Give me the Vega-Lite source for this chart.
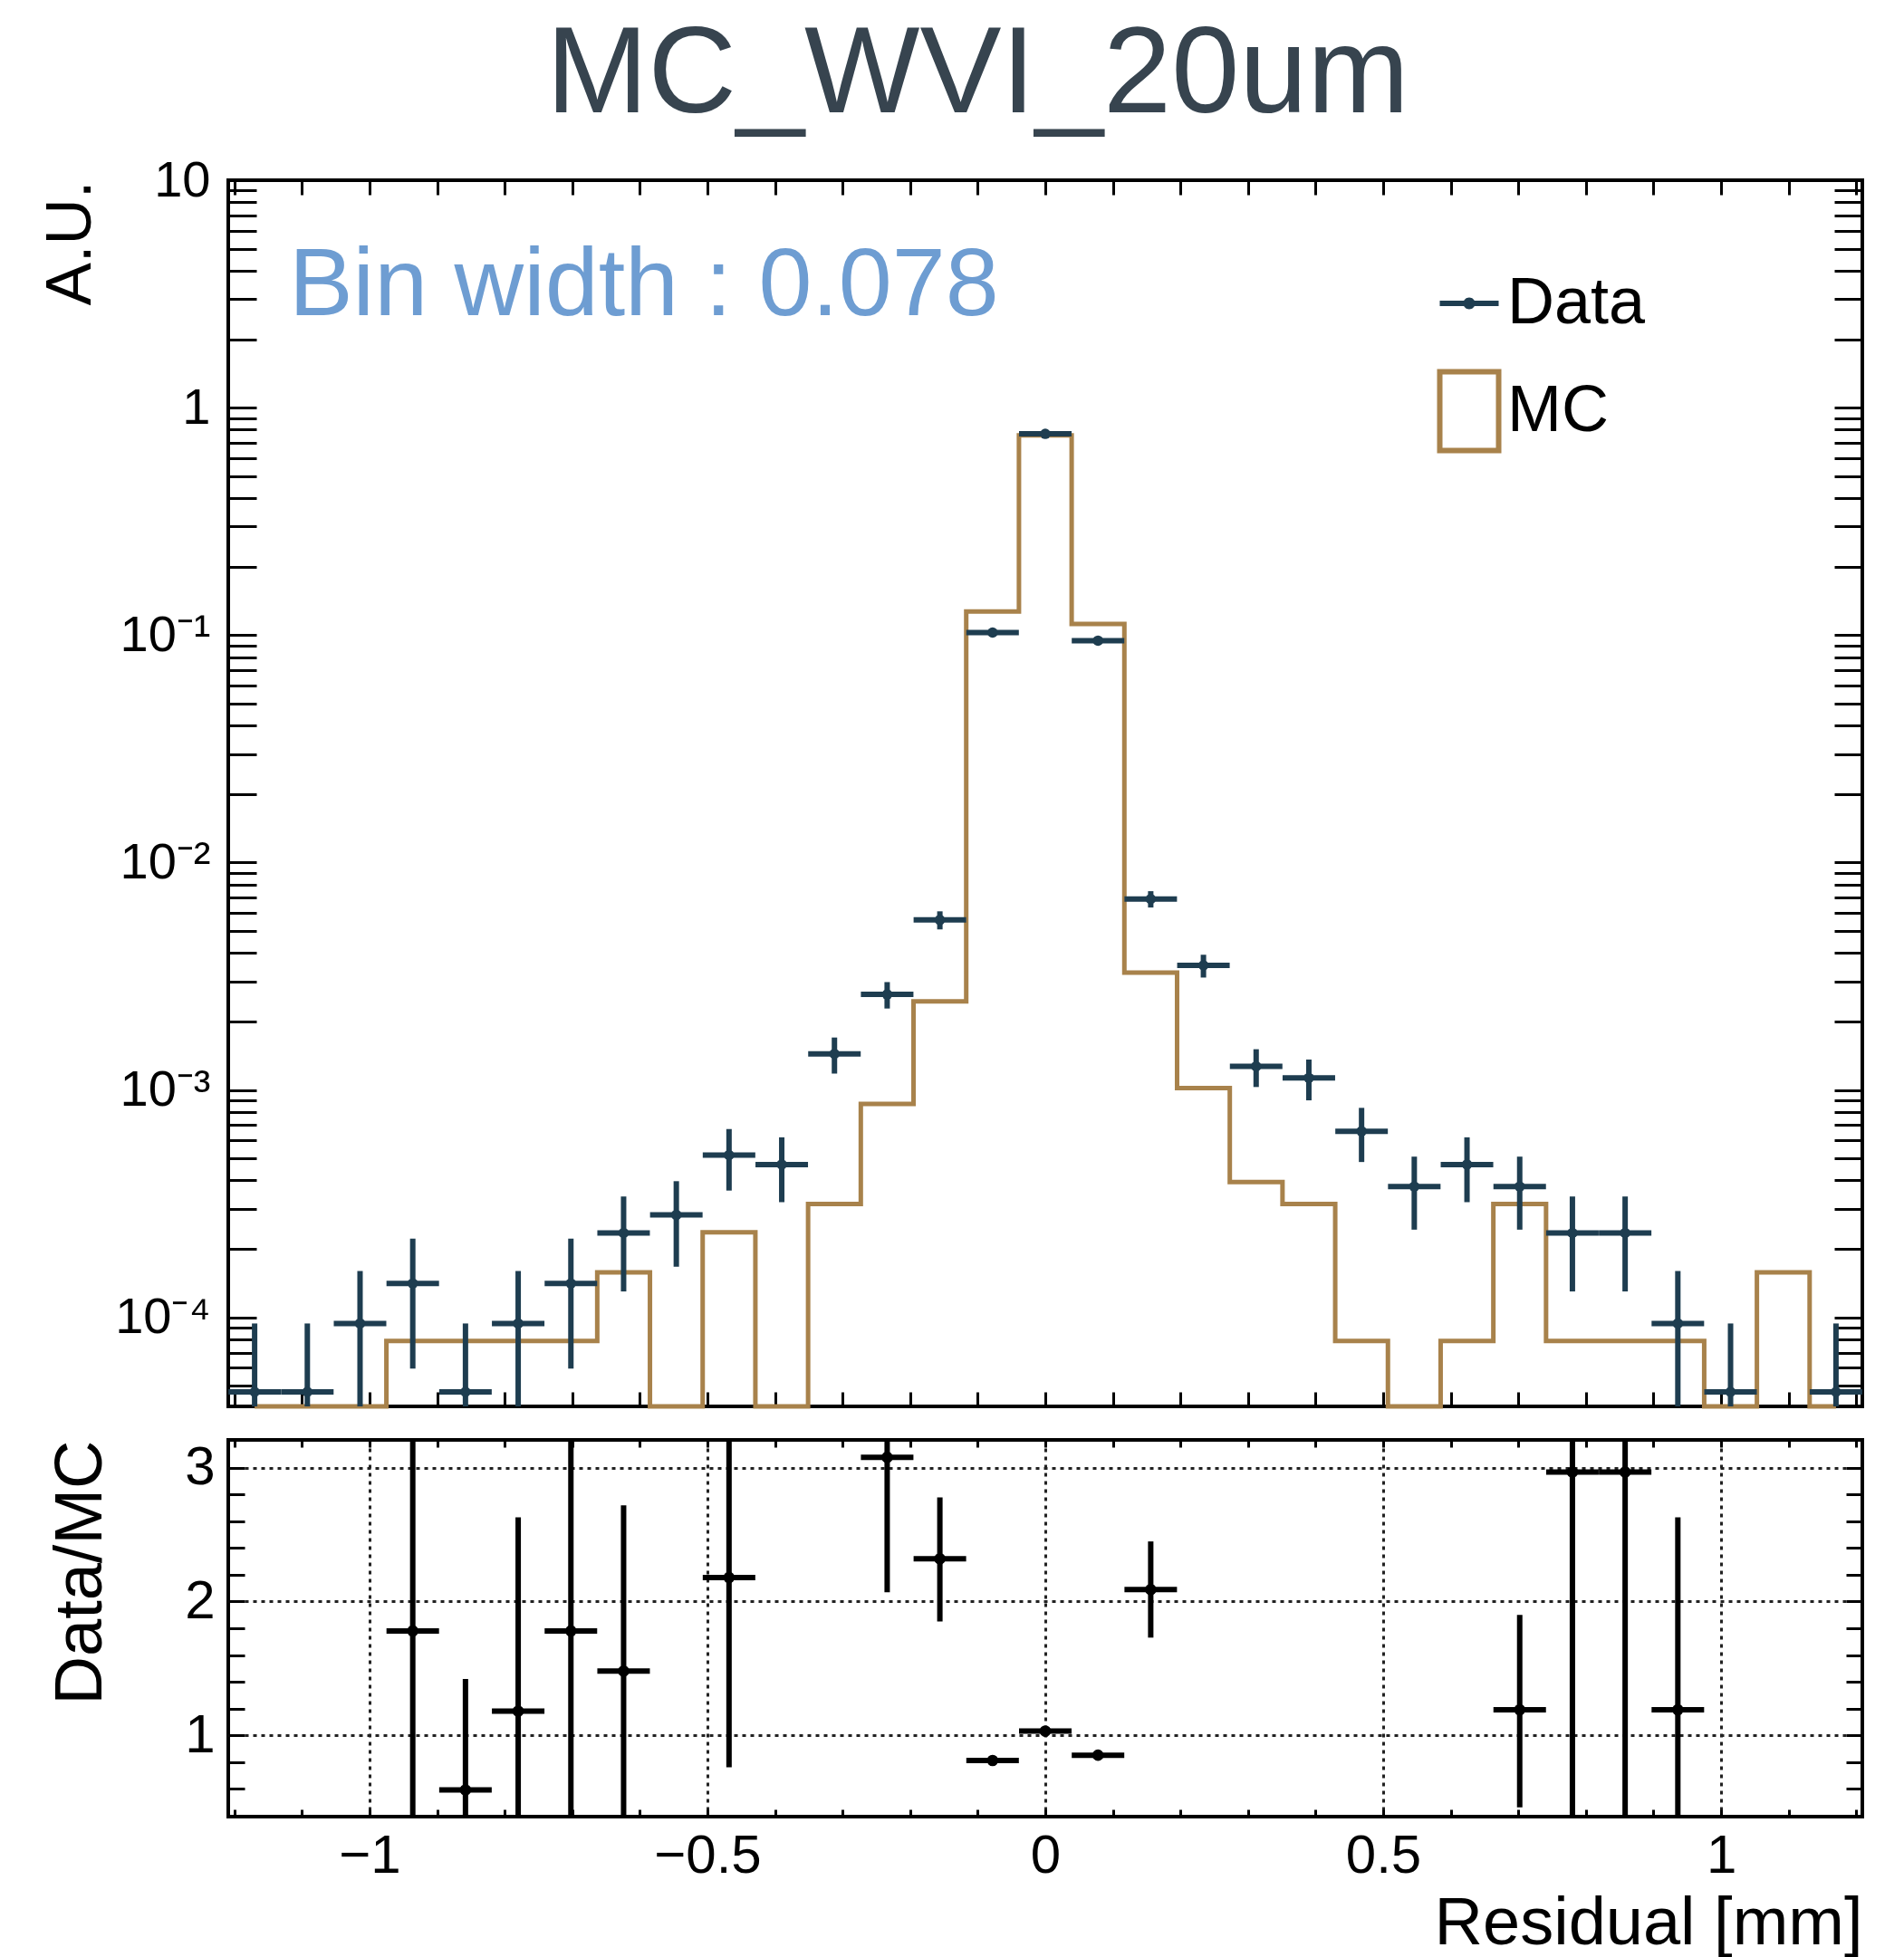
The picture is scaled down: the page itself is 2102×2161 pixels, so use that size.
{
  "$schema": "https://vega.github.io/schema/vega-lite/v6.json",
  "background": "white",
  "padding": {"left": 39, "top": 16, "right": 40, "bottom": 10},
  "bounds": "flush",
  "spacing": 37,
  "config": {
    "font": "Liberation Sans",
    "view": {"stroke": "black", "strokeWidth": 4},
    "axis": {"domain": false, "tickColor": "black", "tickWidth": 3, "labelColor": "black", "titleColor": "black", "labelFont": "Liberation Sans", "titleFont": "Liberation Sans", "titleFontWeight": "normal"}
  },
  "title": {"text": "MC_WVI_20um", "fontSize": 135, "font": "Liberation Sans", "fontWeight": "normal", "color": "#37444f", "anchor": "start", "frame": "group", "dx": 351, "baseline": "alphabetic", "offset": -90},
  "datasets": {
    "mc": [
      {"x": -1.17, "v": 0}, {"x": -1.092, "v": 0}, {"x": -1.014, "v": 0},
      {"x": -0.936, "v": 7.88e-5}, {"x": -0.858, "v": 7.88e-5}, {"x": -0.78, "v": 7.88e-5}, {"x": -0.702, "v": 7.88e-5},
      {"x": -0.624, "v": 1.576e-4}, {"x": -0.546, "v": 0}, {"x": -0.468, "v": 2.364e-4}, {"x": -0.39, "v": 0},
      {"x": -0.312, "v": 3.152e-4}, {"x": -0.234, "v": 8.67e-4}, {"x": -0.156, "v": 2.45e-3}, {"x": -0.078, "v": 0.127},
      {"x": 0, "v": 0.755}, {"x": 0.078, "v": 0.112}, {"x": 0.156, "v": 3.28e-3}, {"x": 0.234, "v": 1.02e-3},
      {"x": 0.312, "v": 3.94e-4}, {"x": 0.39, "v": 3.152e-4}, {"x": 0.468, "v": 7.88e-5}, {"x": 0.546, "v": 0},
      {"x": 0.624, "v": 7.88e-5}, {"x": 0.702, "v": 3.152e-4}, {"x": 0.78, "v": 7.88e-5}, {"x": 0.858, "v": 7.88e-5},
      {"x": 0.936, "v": 7.88e-5}, {"x": 1.014, "v": 0}, {"x": 1.092, "v": 1.576e-4}, {"x": 1.17, "v": 0}
    ],
    "data": [
      {"x": -1.17, "v": 4.7e-5, "lo": 0, "hi": 9.4e-5},
      {"x": -1.092, "v": 4.7e-5, "lo": 0, "hi": 9.4e-5},
      {"x": -1.014, "v": 9.4e-5, "lo": 2.75e-5, "hi": 1.6e-4},
      {"x": -0.936, "v": 1.41e-4, "lo": 5.96e-5, "hi": 2.22e-4},
      {"x": -0.858, "v": 4.7e-5, "lo": 0, "hi": 9.4e-5},
      {"x": -0.78, "v": 9.4e-5, "lo": 2.75e-5, "hi": 1.6e-4},
      {"x": -0.702, "v": 1.41e-4, "lo": 5.96e-5, "hi": 2.22e-4},
      {"x": -0.624, "v": 2.35e-4, "lo": 1.3e-4, "hi": 3.4e-4},
      {"x": -0.546, "v": 2.82e-4, "lo": 1.67e-4, "hi": 3.97e-4},
      {"x": -0.468, "v": 5.17e-4, "lo": 3.61e-4, "hi": 6.73e-4},
      {"x": -0.39, "v": 4.7e-4, "lo": 3.21e-4, "hi": 6.19e-4},
      {"x": -0.312, "v": 1.44e-3, "lo": 1.18e-3, "hi": 1.7e-3},
      {"x": -0.234, "v": 2.63e-3, "lo": 2.28e-3, "hi": 2.98e-3},
      {"x": -0.156, "v": 5.59e-3, "lo": 5.08e-3, "hi": 6.1e-3},
      {"x": -0.078, "v": 0.1026, "lo": 0.1004, "hi": 0.1048},
      {"x": 0, "v": 0.767, "lo": 0.761, "hi": 0.773},
      {"x": 0.078, "v": 0.0945, "lo": 0.0924, "hi": 0.0966},
      {"x": 0.156, "v": 6.91e-3, "lo": 6.34e-3, "hi": 7.48e-3},
      {"x": 0.234, "v": 3.53e-3, "lo": 3.12e-3, "hi": 3.93e-3},
      {"x": 0.312, "v": 1.27e-3, "lo": 1.03e-3, "hi": 1.51e-3},
      {"x": 0.39, "v": 1.13e-3, "lo": 9.0e-4, "hi": 1.36e-3},
      {"x": 0.468, "v": 6.58e-4, "lo": 4.82e-4, "hi": 8.34e-4},
      {"x": 0.546, "v": 3.76e-4, "lo": 2.43e-4, "hi": 5.09e-4},
      {"x": 0.624, "v": 4.7e-4, "lo": 3.21e-4, "hi": 6.19e-4},
      {"x": 0.702, "v": 3.76e-4, "lo": 2.43e-4, "hi": 5.09e-4},
      {"x": 0.78, "v": 2.35e-4, "lo": 1.3e-4, "hi": 3.4e-4},
      {"x": 0.858, "v": 2.35e-4, "lo": 1.3e-4, "hi": 3.4e-4},
      {"x": 0.936, "v": 9.4e-5, "lo": 2.75e-5, "hi": 1.6e-4},
      {"x": 1.014, "v": 4.7e-5, "lo": 0, "hi": 9.4e-5},
      {"x": 1.17, "v": 4.7e-5, "lo": 0, "hi": 9.4e-5}
    ],
    "ratio": [
      {"x": -0.936, "r": 1.78, "lo": -0.28, "hi": 3.84},
      {"x": -0.858, "r": 0.59, "lo": -0.24, "hi": 1.42},
      {"x": -0.78, "r": 1.18, "lo": -0.27, "hi": 2.63},
      {"x": -0.702, "r": 1.78, "lo": -0.28, "hi": 3.84},
      {"x": -0.624, "r": 1.48, "lo": 0.24, "hi": 2.72},
      {"x": -0.468, "r": 2.18, "lo": 0.76, "hi": 3.6},
      {"x": -0.234, "r": 3.08, "lo": 2.07, "hi": 4.09},
      {"x": -0.156, "r": 2.32, "lo": 1.85, "hi": 2.78},
      {"x": -0.078, "r": 0.81, "lo": 0.79, "hi": 0.83},
      {"x": 0, "r": 1.03, "lo": 1.02, "hi": 1.04},
      {"x": 0.078, "r": 0.85, "lo": 0.83, "hi": 0.87},
      {"x": 0.156, "r": 2.09, "lo": 1.73, "hi": 2.45},
      {"x": 0.702, "r": 1.19, "lo": 0.46, "hi": 1.9},
      {"x": 0.78, "r": 2.97, "lo": -0.28, "hi": 6.2},
      {"x": 0.858, "r": 2.97, "lo": -0.28, "hi": 6.2},
      {"x": 0.936, "r": 1.19, "lo": -0.27, "hi": 2.63}
    ],
    "note": [{"label": "Bin width : 0.078", "x": -1.1193, "y": 2.55}]
  },
  "vconcat": [
    {
      "width": 1804,
      "height": 1354,
      "resolve": {"axis": {"x": "independent", "y": "independent"}},
      "layer": [
        {
          "data": {"name": "mc"},
          "mark": {"type": "line", "interpolate": "step", "strokeWidth": 5},
          "encoding": {
            "x": {"field": "x", "type": "quantitative", "scale": {"domain": [-1.209, 1.209], "nice": false, "zero": false},
              "axis": {"orient": "bottom", "values": [-1.2,-1.1,-1,-0.9,-0.8,-0.7,-0.6,-0.5,-0.4,-0.3,-0.2,-0.1,0,0.1,0.2,0.3,0.4,0.5,0.6,0.7,0.8,0.9,1,1.1,1.2], "labels": false, "title": null, "grid": false, "tickSize": -16,
                "encode": {"ticks": {"update": {"y2": {"signal": "abs(round(datum.value*10))%5==0 ? -35 : -16"}}}}}},
            "y": {"field": "v", "type": "quantitative", "scale": {"type": "log", "domain": [4.06e-5, 10], "nice": false, "clamp": true},
              "axis": {"orient": "left", "values": [5e-5,6e-5,7e-5,8e-5,9e-5,0.0001,0.0002,0.0003,0.0004,0.0005,0.0006,0.0007,0.0008,0.0009,0.001,0.002,0.003,0.004,0.005,0.006,0.007,0.008,0.009,0.01,0.02,0.03,0.04,0.05,0.06,0.07,0.08,0.09,0.1,0.2,0.3,0.4,0.5,0.6,0.7,0.8,0.9,1,2,3,4,5,6,7,8,9,10],
                "labelExpr": "datum.value==10?'10':datum.value==1?'1':datum.value==0.1?'10⁻¹':datum.value==0.01?'10⁻²':datum.value==0.001?'10⁻³':datum.value==0.0001?'10⁻⁴':''",
                "labelFontSize": 56, "labelPadding": 51, "tickSize": -31, "grid": false,
                "title": "A.U.", "titleFontSize": 71, "titleX": -153, "titleY": 0, "titleAngle": -90, "titleAlign": "right", "titleBaseline": "alphabetic",
                "encode": {"ticks": {"update": {"x2": {"signal": "abs(log(datum.value)/LN10 - round(log(datum.value)/LN10)) < 0.001 ? 62 : 31"}}}}}},
            "color": {"datum": "MC", "type": "nominal", "scale": {"domain": ["Data", "MC"], "range": ["#1e3d50", "#a8824b"]},
              "legend": {"orient": "none", "legendX": 1334, "legendY": 100, "title": null, "padding": 0, "symbolSize": 4225, "labelFontSize": 72, "labelFont": "Liberation Sans", "labelColor": "black", "rowPadding": 27, "labelOffset": 6, "symbolStrokeWidth": 6,
                "encode": {"symbols": {"update": {
                  "shape": {"signal": "datum.value=='Data' ? 'M-1,-0.09H1V0.09H-1Z M-0.2,0A0.2,0.2 0 1,1 0.2,0A0.2,0.2 0 1,1 -0.2,0Z' : 'M-1,-1.34H1V1.34H-1Z'"},
                  "fill": {"signal": "datum.value=='Data' ? '#1e3d50' : 'transparent'"},
                  "fillOpacity": {"signal": "datum.value=='Data' ? 1 : 0"},
                  "stroke": {"signal": "datum.value=='Data' ? 'transparent' : '#a8824b'"},
                  "strokeOpacity": {"signal": "datum.value=='Data' ? 0 : 1"},
                  "strokeWidth": {"value": 6}}}}}}
          }
        },
        {
          "data": {"name": "data"},
          "mark": {"type": "rule", "strokeWidth": 6},
          "encoding": {
            "x": {"field": "x", "type": "quantitative",
              "axis": {"orient": "top", "values": [-1.2,-1.1,-1,-0.9,-0.8,-0.7,-0.6,-0.5,-0.4,-0.3,-0.2,-0.1,0,0.1,0.2,0.3,0.4,0.5,0.6,0.7,0.8,0.9,1,1.1,1.2], "labels": false, "title": null, "grid": false, "tickSize": -16,
                "encode": {"ticks": {"update": {"y2": {"signal": "abs(round(datum.value*10))%5==0 ? 35 : 16"}}}}}},
            "y": {"field": "lo", "type": "quantitative",
              "axis": {"orient": "right", "values": [5e-5,6e-5,7e-5,8e-5,9e-5,0.0001,0.0002,0.0003,0.0004,0.0005,0.0006,0.0007,0.0008,0.0009,0.001,0.002,0.003,0.004,0.005,0.006,0.007,0.008,0.009,0.01,0.02,0.03,0.04,0.05,0.06,0.07,0.08,0.09,0.1,0.2,0.3,0.4,0.5,0.6,0.7,0.8,0.9,1,2,3,4,5,6,7,8,9,10],
                "labels": false, "title": null, "grid": false, "tickSize": -31,
                "encode": {"ticks": {"update": {"x2": {"signal": "abs(log(datum.value)/LN10 - round(log(datum.value)/LN10)) < 0.001 ? -62 : -31"}}}}}},
            "y2": {"field": "hi"},
            "color": {"datum": "Data", "type": "nominal"}
          }
        },
        {
          "data": {"name": "data"},
          "mark": {"type": "tick", "orient": "horizontal", "size": 58, "thickness": 6, "opacity": 1},
          "encoding": {
            "x": {"field": "x", "type": "quantitative", "axis": null},
            "y": {"field": "v", "type": "quantitative", "axis": null},
            "color": {"datum": "Data", "type": "nominal"}
          }
        },
        {
          "data": {"name": "data"},
          "mark": {"type": "point", "filled": true, "size": 133, "opacity": 1},
          "encoding": {
            "x": {"field": "x", "type": "quantitative", "axis": null},
            "y": {"field": "v", "type": "quantitative", "axis": null},
            "color": {"datum": "Data", "type": "nominal"}
          }
        },
        {
          "data": {"name": "note"},
          "mark": {"type": "text", "align": "left", "baseline": "alphabetic", "fontSize": 106, "font": "Liberation Sans", "color": "#6e9dd2"},
          "encoding": {
            "x": {"field": "x", "type": "quantitative", "axis": null},
            "y": {"field": "y", "type": "quantitative", "axis": null},
            "text": {"field": "label"}
          }
        }
      ]
    },
    {
      "width": 1804,
      "height": 416,
      "data": {"name": "ratio"},
      "resolve": {"axis": {"x": "independent", "y": "independent"}},
      "layer": [
        {
          "mark": {"type": "rule", "strokeWidth": 6, "color": "black"},
          "encoding": {
            "x": {"field": "x", "type": "quantitative", "scale": {"domain": [-1.209, 1.209], "nice": false, "zero": false},
              "axis": {"orient": "bottom", "values": [-1.2,-1.1,-1,-0.9,-0.8,-0.7,-0.6,-0.5,-0.4,-0.3,-0.2,-0.1,0,0.1,0.2,0.3,0.4,0.5,0.6,0.7,0.8,0.9,1,1.1,1.2],
                "format": "~g", "labelExpr": "abs(round(datum.value*10))%5==0 ? datum.label : ''", "labelFontSize": 60, "labelPadding": 22, "tickSize": -8, "grid": false,
                "title": "Residual [mm]", "titleFontSize": 74, "titleX": 1804, "titleY": 140, "titleAlign": "right", "titleBaseline": "alphabetic", "titleAnchor": "end",
                "encode": {"ticks": {"update": {"y2": {"signal": "abs(round(datum.value*10))%5==0 ? -15 : -8"}}}}}},
            "y": {"field": "lo", "type": "quantitative", "scale": {"domain": [0.39, 3.21], "nice": false, "zero": false, "clamp": true},
              "axis": {"orient": "left", "values": [0.6,0.8,1,1.2,1.4,1.6,1.8,2,2.2,2.4,2.6,2.8,3],
                "format": "~g", "labelExpr": "abs(datum.value - round(datum.value)) < 0.01 ? datum.label : ''", "labelFontSize": 60, "labelPadding": 33, "tickSize": -18, "grid": false,
                "title": "Data/MC", "titleFontSize": 74, "titleX": -141, "titleY": 0, "titleAngle": -90, "titleAlign": "right", "titleBaseline": "alphabetic",
                "encode": {"ticks": {"update": {"x2": {"signal": "abs(datum.value - round(datum.value)) < 0.01 ? 44 : 18"}}}}}},
            "y2": {"field": "hi"}
          }
        },
        {
          "mark": {"type": "tick", "orient": "horizontal", "size": 58, "thickness": 6, "color": "black", "opacity": 1},
          "encoding": {
            "x": {"field": "x", "type": "quantitative",
              "axis": {"orient": "top", "values": [-1.2,-1.1,-1,-0.9,-0.8,-0.7,-0.6,-0.5,-0.4,-0.3,-0.2,-0.1,0,0.1,0.2,0.3,0.4,0.5,0.6,0.7,0.8,0.9,1,1.1,1.2], "labels": false, "title": null, "grid": false, "tickSize": -8,
                "encode": {"ticks": {"update": {"y2": {"signal": "abs(round(datum.value*10))%5==0 ? 15 : 8"}}}}}},
            "y": {"field": "r", "type": "quantitative",
              "axis": {"orient": "right", "values": [0.6,0.8,1,1.2,1.4,1.6,1.8,2,2.2,2.4,2.6,2.8,3], "labels": false, "title": null, "grid": false, "tickSize": -18,
                "encode": {"ticks": {"update": {"x2": {"signal": "abs(datum.value - round(datum.value)) < 0.01 ? -44 : -18"}}}}}}
          }
        },
        {
          "mark": {"type": "point", "filled": true, "size": 160, "opacity": 1, "color": "black"},
          "encoding": {
            "x": {"field": "x", "type": "quantitative",
              "axis": {"orient": "bottom", "values": [-1, -0.5, 0, 0.5, 1], "grid": true, "ticks": false, "labels": false, "title": null, "gridColor": "#222222", "gridWidth": 3, "gridDash": [4, 5], "gridOpacity": 1}},
            "y": {"field": "r", "type": "quantitative",
              "axis": {"orient": "left", "values": [1, 2, 3], "grid": true, "ticks": false, "labels": false, "title": null, "gridColor": "#222222", "gridWidth": 3, "gridDash": [4, 5], "gridOpacity": 1}}
          }
        }
      ]
    }
  ]
}
